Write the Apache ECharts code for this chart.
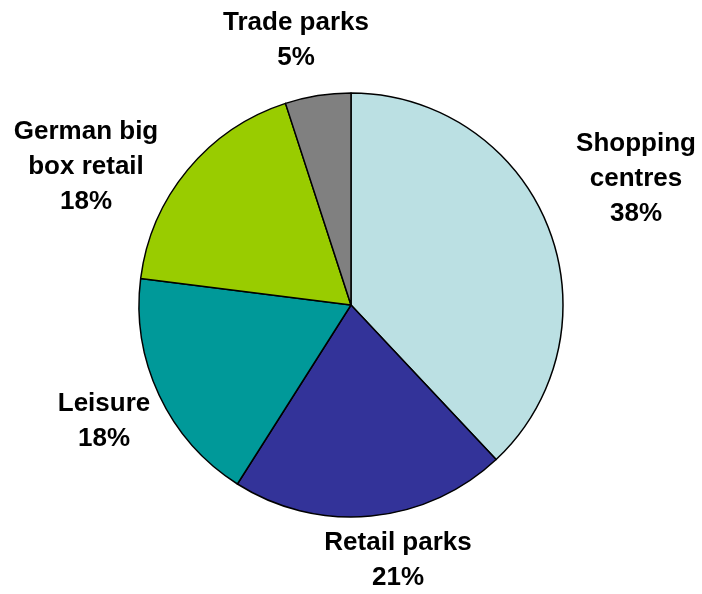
<!DOCTYPE html>
<html>
<head>
<meta charset="utf-8">
<script src="https://cdn.jsdelivr.net/npm/echarts@6/dist/echarts.min.js"></script>
<style>html,body{margin:0;padding:0;background:#fff;}#c{width:702px;height:594px;}</style>
</head>
<body>
<div id="c"></div>
<script>
const categories = ['Shopping\ncentres', 'Retail parks', 'Leisure', 'German big\nbox retail', 'Trade parks'];
const values = [38, 21, 18, 18, 5];
const colors = ['#BBE0E3', '#333399', '#009999', '#99CC00', '#808080'];

// label block centres (text placement only)
const labelPos = [[636, 179], [398, 560], [104, 421], [86, 167], [296, 40]];

const chart = echarts.init(document.getElementById('c'), null, {renderer: 'canvas'});
chart.setOption({
  backgroundColor: '#ffffff',
  animation: false,
  series: [{
    type: 'pie',
    center: [351, 305],
    radius: 212,
    startAngle: 90,
    clockwise: true,
    data: categories.map((n, i) => ({name: n, value: values[i], itemStyle: {color: colors[i]}})),
    itemStyle: {borderColor: '#000', borderWidth: 1.5},
    label: {
      show: true,
      position: 'outside',
      formatter: p => p.name + '\n' + p.value + '%',
      fontFamily: 'Liberation Sans, Arial, sans-serif',
      fontWeight: 'bold',
      fontSize: 26,
      lineHeight: 35,
      color: '#000',
      align: 'center',
      overflow: 'none',
      width: 200
    },
    labelLine: {show: false},
    labelLayout: p => ({x: labelPos[p.dataIndex][0], y: labelPos[p.dataIndex][1], align: 'center', verticalAlign: 'middle'}),
    emphasis: {disabled: true}
  }]
});
</script>
</body>
</html>
